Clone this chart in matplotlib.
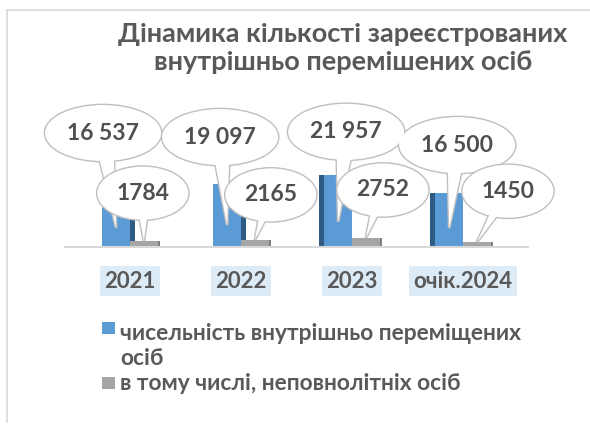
import numpy as np
import matplotlib.pyplot as plt
from matplotlib.patches import Ellipse, Polygon, Rectangle
from matplotlib.transforms import IdentityTransform
from matplotlib.lines import Line2D

plt.rcParams['font.family'] = ['Lato', 'DejaVu Sans']

# дані
categories = ['2021', '2022', '2023', 'очік.2024']
idp_total = [16537, 19097, 21957, 16500]
idp_minors = [1784, 2165, 2752, 1450]
series_names = ['чисельність внутрішньо переміщених\nосіб',
                'в тому числі, неповнолітніх осіб']
title = 'Дінамика кількості зареєстрованих\nвнутрішньо перемішених осіб'

# зсув виносок від точки прив'язки (px, вправо / вгору)
blue_offsets = [(-13, 95), (-7, 88), (8, 90), (8, 83)]
gray_offsets = [(-1, 48), (16, 45), (17, 48), (31, 51)]

TEXT = '#595959'
BLUE = '#5B9BD5'
BLUE_DARK = '#2E5B84'
GRAY = '#A5A5A5'
GRAY_DARK = '#7F7F7F'
LINE = '#BFBFBF'

fig = plt.figure(figsize=(5.9, 4.3), dpi=100)
ax = fig.add_axes([65 / 590, 1 - 247 / 430, 463 / 590, 152 / 430])

x = np.arange(len(categories))
w = 0.25
side = 0.045
# бічні грані (псевдо-3D)
side_pos = [xi - w / 2 + (w / 2 + side / 2 if xi < 1.5 else -w / 2 - side / 2) for xi in x]
ax.bar(side_pos, idp_total, side, color=BLUE_DARK, zorder=1)
ax.bar(x + w / 2 + w / 2, idp_minors, side, color=GRAY_DARK, zorder=1)
ax.bar(x - w / 2, idp_total, w, color=BLUE, zorder=2)
ax.bar(x + w / 2, idp_minors, w, color=GRAY, zorder=2)

ax.set_xlim(-0.585, 3.585)
ax.set_ylim(0, 46400)
for s in ['top', 'right', 'left']:
    ax.spines[s].set_visible(False)
ax.spines['bottom'].set_color('#D9D9D9')
ax.spines['bottom'].set_linewidth(1.5)
ax.set_yticks([])
ax.set_xticks(x, categories)
ax.tick_params(axis='x', length=0, pad=17)
for lbl in ax.get_xticklabels():
    lbl.set_fontsize(16)
    lbl.set_fontweight('bold')
    lbl.set_color(TEXT)
    lbl.set_bbox(dict(facecolor='#DDEBF7', edgecolor='none', pad=3))


def callout(tip, off, size, label, z):
    tx, ty = tip
    cx, cy = tx + off[0], ty + off[1]
    ew, eh = size
    hw = ew * 0.085
    tail = [(cx - hw, cy), (tx, ty), (cx + hw, cy)]
    for fill in (False, True):
        kw = dict(facecolor='white', transform=IdentityTransform(), clip_on=False)
        if fill:
            kw.update(edgecolor='none', zorder=z + 0.5)
        else:
            kw.update(edgecolor=LINE, lw=2.0, zorder=z)
        ax.add_patch(Ellipse((cx, cy), ew, eh, **kw))
        ax.add_patch(Polygon(tail, closed=True, **kw))
    ax.text(cx, cy, label, transform=IdentityTransform(), ha='center', va='center',
            fontsize=16.5, fontweight='bold', color='#505050', zorder=z + 0.6, clip_on=False)


for i in range(len(categories)):
    tip = ax.transData.transform((x[i] - w / 2, idp_total[i] * 0.35))
    callout(tip, blue_offsets[i], (116, 56), f'{idp_total[i]:,}'.replace(',', ' '), 5)
for i in range(len(categories)):
    tip = ax.transData.transform((x[i] + w / 2, idp_minors[i]))
    callout(tip, gray_offsets[i], (91, 53), str(idp_minors[i]), 7)

# заголовок
fig.text(343 / 590, 1 - 48 / 430, title, ha='center', va='center', fontsize=19.5,
         fontweight='bold', color=TEXT, linespacing=1.25)

# легенда
legend_y = [346, 383]
marker_y = [328, 383]
for name, col, ty, my in zip(series_names, [BLUE, GRAY], legend_y, marker_y):
    fig.add_artist(Rectangle((102 / 590, 1 - (my + 6) / 430), 13 / 590, 12 / 430,
                             transform=fig.transFigure, facecolor=col, edgecolor='none'))
    fig.text(120 / 590, 1 - ty / 430, name, ha='left', va='center', fontsize=16.4,
             fontweight='bold', color=TEXT, linespacing=1.22)

# рамка
fig.add_artist(Line2D([7 / 590, 7 / 590], [1 - 422 / 430, 1 - 10 / 430],
                      transform=fig.transFigure, color='#D9D9D9', lw=1.2))
fig.add_artist(Line2D([7 / 590, 1], [1 - 10 / 430, 1 - 10 / 430],
                      transform=fig.transFigure, color='#D9D9D9', lw=1.2))

fig.savefig('out.png', dpi=100)
